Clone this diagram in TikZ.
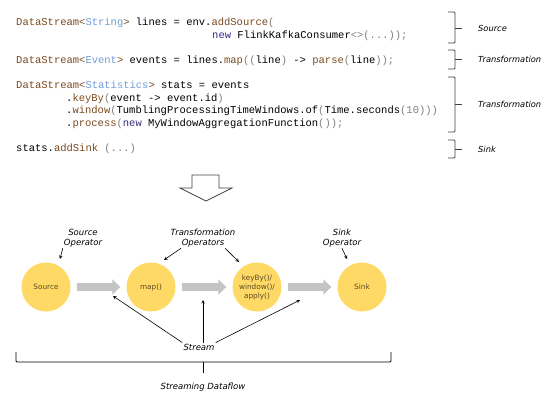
\documentclass[tikz,border=0pt]{standalone}
\usepackage{fontspec}
\setmainfont{DejaVu Sans}
\setmonofont{Liberation Mono}
\usepackage{tikz}
\usetikzlibrary{positioning,shapes,arrows,arrows.meta}

\definecolor{opyellow}{HTML}{FFD966}
\definecolor{optext}{HTML}{5A4A28}
\definecolor{flowgray}{HTML}{C4C4C4}
\definecolor{codebrown}{HTML}{7A4A1E}
\definecolor{codeblue}{HTML}{6E9DD8}
\definecolor{codegray}{HTML}{7F7F7F}
\definecolor{codenew}{HTML}{3A2A80}
\definecolor{bracegray}{HTML}{404040}

\newcommand{\cb}[1]{\textcolor{codebrown}{#1}}
\newcommand{\ct}[1]{\textcolor{codeblue}{#1}}
\newcommand{\cg}[1]{\textcolor{codegray}{#1}}
\newcommand{\cn}[1]{\textcolor{codenew}{#1}}

\begin{document}
\begin{tikzpicture}
            [x=1pt,y=-1pt,
             code/.style={anchor=base west, inner sep=0pt, font=\ttfamily\fontsize{10.5}{12}\selectfont},
             tag/.style={anchor=west, inner sep=0pt, font=\itshape\fontsize{8.3}{10}\selectfont},
             op/.style={circle, fill=opyellow, inner sep=0pt, minimum size=49pt, align=center, text=optext, font=\fontsize{7.3}{9}\selectfont},
             note/.style={align=center, inner sep=1pt, font=\itshape\fontsize{8.5}{10}\selectfont},
             flow/.style={draw=flowgray, line width=8pt, -{Triangle[width=15pt,length=8pt]}, shorten <=6pt, shorten >=6pt},
             pointer/.style={->, >=stealth, line width=0.6pt},
             bracket/.style={draw=bracegray, line width=0.8pt, rounded corners=1pt}]
          \useasboundingbox (0,0) rectangle (556,411);

          % code
          \node[code] (c1) at (16,26) {\cb{DataStream<}\ct{String}\cb{>} lines = env.\cb{addSource}\cg{(}};
          \node[code] (c2) at (212,38.5) {\cn{new} FlinkKafkaConsumer\cg{<>(...));}};
          \node[code] (c3) at (16,64) {\cb{DataStream<}\ct{Event}\cb{>} events = lines.\cb{map}\cg{((}line\cg{)} -> \cb{parse}\cg{(}line\cg{));}};
          \node[code] (c4) at (16,89) {\cb{DataStream<}\ct{Statistics}\cb{>} stats = events};
          \node[code] (c5) at (66,101.5) {.\cb{keyBy}\cg{(}event -> event.id\cg{)}};
          \node[code] (c6) at (66,114) {.\cb{window}\cg{(}TumblingProcessingTimeWindows.of\cg{(}Time.seconds\cg{(10)))}};
          \node[code] (c7) at (66,126.5) {.\cb{process}\cg{(}\cn{new} MyWindowAggregationFunction\cg{());}};
          \node[code] (c8) at (16,151.5) {stats.\cb{addSink} \cg{(...)}};

          % braces on the right
          \foreach \t/\b/\m/\txt in {12/43/28/Source, 50/69/59/Transformation, 77/132/104/Transformation, 140/158/149/Sink}
          {
            \draw[bracket] (448,\t) -- (455,\t) -- (455,\b) -- (448,\b);
            \draw[bracket] (455,\m) -- (462,\m);
            \node[tag] (tag\m) at (478,\m) {\txt};
          }

          % hollow arrow
          \draw[bracket, rounded corners=0pt] (192,175) -- (219,175) -- (219,188) -- (232,188) -- (206,201) -- (180,188) -- (192,188) -- cycle;

          \node[op] (src) at (46,287) {Source};
          \node[op] (map) at (151,287) {map()};
          \node[op] (key) at (257,287) {keyBy()/\\window()/\\apply()};
          \node[op] (sink) at (362,287) {Sink};

          \foreach \from/\to in {src/map, map/key, key/sink}
            \draw (\from) edge[flow] (\to);

          \node[note] (lsrc) at (83,238) {Source\\Operator};
          \node[note] (ltr) at (203,238) {Transformation\\Operators};
          \node[note] (lsink) at (342,238) {Sink\\Operator};

          \coordinate (p1) at (60,259);
          \coordinate (p2) at (164,260);
          \coordinate (p3) at (239,262);
          \coordinate (p4) at (347,259);
          \draw[pointer] (lsrc.south west) -- (p1);
          \draw[pointer] (ltr.-155) -- (p2);
          \draw[pointer] (ltr.-25) -- (p3);
          \draw[pointer] (lsink.south) -- (p4);

          \node[note] (strm) at (199,347) {Stream};
          \coordinate (s1) at (113,296);
          \coordinate (s2) at (203,300);
          \coordinate (s3) at (300,300);
          \draw[pointer] (strm.north west) -- (s1);
          \draw[pointer] (strm.north -| s2) -- (s2);
          \draw[pointer] (strm.north east) -- (s3);

          % bottom brace
          \draw[bracket, draw=black] (16,352) -- (16,362) -- (391,362) -- (391,352);
          \draw[bracket, draw=black] (203,362) -- (203,373);
          \node[note] (dflow) at (203,387) {Streaming Dataflow};
        \end{tikzpicture}
\end{document}
